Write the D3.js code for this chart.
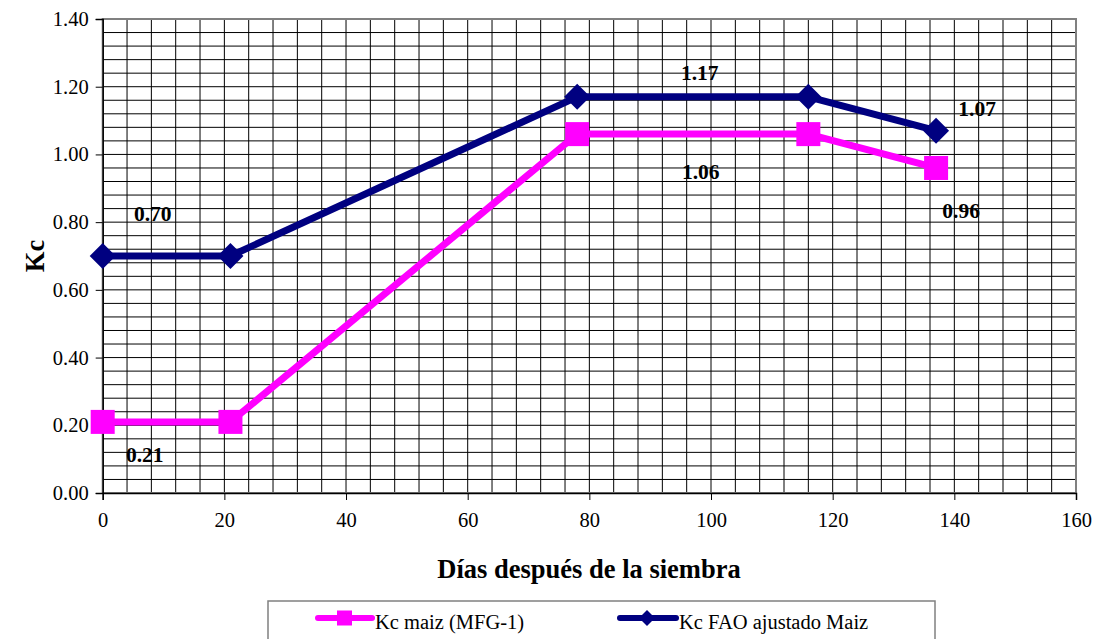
<!DOCTYPE html>
<html>
<head>
<meta charset="utf-8">
<script src="https://cdn.jsdelivr.net/npm/d3@7"></script>
<style>
  html, body { margin: 0; padding: 0; background: #fff; }
  svg { display: block; }
  svg text { font-family: "Liberation Serif", "Times New Roman", serif; fill: #000; }
</style>
</head>
<body>
<svg id="chart" width="1095" height="639"></svg>
<script>
// Crop coefficient curves for maize
const days = [0, 21, 78, 116, 137];
const kcMfg = [0.21, 0.21, 1.06, 1.06, 0.96];
const kcFao = [0.70, 0.70, 1.17, 1.17, 1.07];
const seriesNames = ["Kc maiz (MFG-1)", "Kc FAO ajustado Maiz"];
const xTicks = [0, 20, 40, 60, 80, 100, 120, 140, 160];
const yTicks = [0, 0.2, 0.4, 0.6, 0.8, 1.0, 1.2, 1.4];

// value labels, anchored at a day and value, nudged in pixels
const mfgLabels = [
  { v: 0.21, d: 0, dx: 42, dy: 40 },
  { v: 1.06, d: 97, dx: 8, dy: 45 },
  { v: 0.96, d: 137, dx: 25, dy: 50 }
];
const faoLabels = [
  { v: 0.70, d: 0, dx: 50, dy: -35 },
  { v: 1.17, d: 97, dx: 7, dy: -17 },
  { v: 1.07, d: 137, dx: 41, dy: -15 }
];

const svg = d3.select("#chart");
const plotL = 102.7, plotR = 1076, plotT = 19, plotB = 493;

const x = d3.scaleLinear().domain([0, 160]).range([plotL, plotR]);
const y = d3.scaleLinear().domain([0, 1.4]).range([plotB, plotT]);

// fine grid
const grid = svg.append("g");
grid.selectAll("line.v").data(d3.range(0, 160.01, 4)).join("line")
  .attr("x1", d => x(d)).attr("x2", d => x(d))
  .attr("y1", plotT).attr("y2", plotB)
  .attr("stroke", "#000").attr("stroke-width", 1);
grid.selectAll("line.h").data(d3.range(0, 1.4001, 0.04)).join("line")
  .attr("x1", plotL).attr("x2", plotR)
  .attr("y1", d => y(d)).attr("y2", d => y(d))
  .attr("stroke", "#000").attr("stroke-width", 1);

// plot frame
svg.append("rect").attr("x", plotL).attr("y", plotT)
  .attr("width", plotR - plotL).attr("height", plotB - plotT)
  .attr("fill", "none").attr("stroke", "#808080").attr("stroke-width", 2);

// axes
const xAxis = svg.append("g").attr("transform", `translate(0,${plotB})`)
  .call(d3.axisBottom(x).tickValues(xTicks).tickSize(7).tickPadding(12).tickFormat(d3.format("d")));
const yAxis = svg.append("g").attr("transform", `translate(${plotL},0)`)
  .call(d3.axisLeft(y).tickValues(yTicks).tickSize(7).tickPadding(7).tickFormat(d3.format(".2f")));
[xAxis, yAxis].forEach(a => {
  a.attr("font-family", null).attr("font-size", null);
  a.selectAll("text").style("font-size", "20.5px");
  a.selectAll("line").attr("stroke", "#000");
  a.select(".domain").attr("stroke", "#000").attr("stroke-width", 1.5);
});

// axis titles
svg.append("text").attr("x", 589).attr("y", 578).attr("text-anchor", "middle")
  .attr("font-weight", "bold").style("font-size", "26.5px").text("Días después de la siembra");
svg.append("text").attr("transform", "translate(44,256) rotate(-90)").attr("text-anchor", "middle")
  .attr("font-weight", "bold").style("font-size", "26.5px").text("Kc");

const line = d3.line().x((d, i) => x(days[i])).y(d => y(d));

// MFG-1 series
svg.append("path").datum(kcMfg).attr("d", line)
  .attr("fill", "none").attr("stroke", "#FF00FF").attr("stroke-width", 7).attr("stroke-linejoin", "round");
svg.selectAll("rect.mfg").data(kcMfg).join("rect")
  .attr("x", (d, i) => x(days[i]) - 12).attr("y", d => y(d) - 12)
  .attr("width", 24).attr("height", 24).attr("fill", "#FF00FF");

// FAO series
svg.append("path").datum(kcFao).attr("d", line)
  .attr("fill", "none").attr("stroke", "#000080").attr("stroke-width", 7).attr("stroke-linejoin", "round");
svg.selectAll("path.fao").data(kcFao).join("path")
  .attr("d", "M0,-13L13,0L0,13L-13,0Z")
  .attr("transform", (d, i) => `translate(${x(days[i])},${y(d)})`)
  .attr("fill", "#000080");

// value labels
const labelG = svg.append("g").attr("font-weight", "bold").attr("text-anchor", "middle");
labelG.selectAll("text.m").data(mfgLabels).join("text")
  .attr("x", d => x(d.d) + d.dx).attr("y", d => y(d.v) + d.dy)
  .style("font-size", "21.5px")
  .text(d => d.v.toFixed(2));
labelG.selectAll("text.f").data(faoLabels).join("text")
  .attr("x", d => x(d.d) + d.dx).attr("y", d => y(d.v) + d.dy)
  .style("font-size", "21.5px")
  .text(d => d.v.toFixed(2));

// legend
const lg = svg.append("g");
lg.append("rect").attr("x", 268).attr("y", 601).attr("width", 667).attr("height", 60)
  .attr("fill", "#fff").attr("stroke", "#808080").attr("stroke-width", 1.5);
lg.append("line").attr("x1", 318).attr("x2", 372).attr("y1", 618).attr("y2", 618)
  .attr("stroke", "#FF00FF").attr("stroke-width", 6).attr("stroke-linecap", "round");
lg.append("rect").attr("x", 337).attr("y", 610.5).attr("width", 15).attr("height", 15).attr("fill", "#FF00FF");
lg.append("text").attr("x", 375).attr("y", 629).style("font-size", "20.5px").text(seriesNames[0]);
lg.append("line").attr("x1", 620).attr("x2", 676).attr("y1", 618).attr("y2", 618)
  .attr("stroke", "#000080").attr("stroke-width", 6).attr("stroke-linecap", "round");
lg.append("path").attr("d", "M0,-8L8,0L0,8L-8,0Z").attr("transform", "translate(647,618)").attr("fill", "#000080");
lg.append("text").attr("x", 679).attr("y", 629).style("font-size", "20.5px").text(seriesNames[1]);
</script>
</body>
</html>
